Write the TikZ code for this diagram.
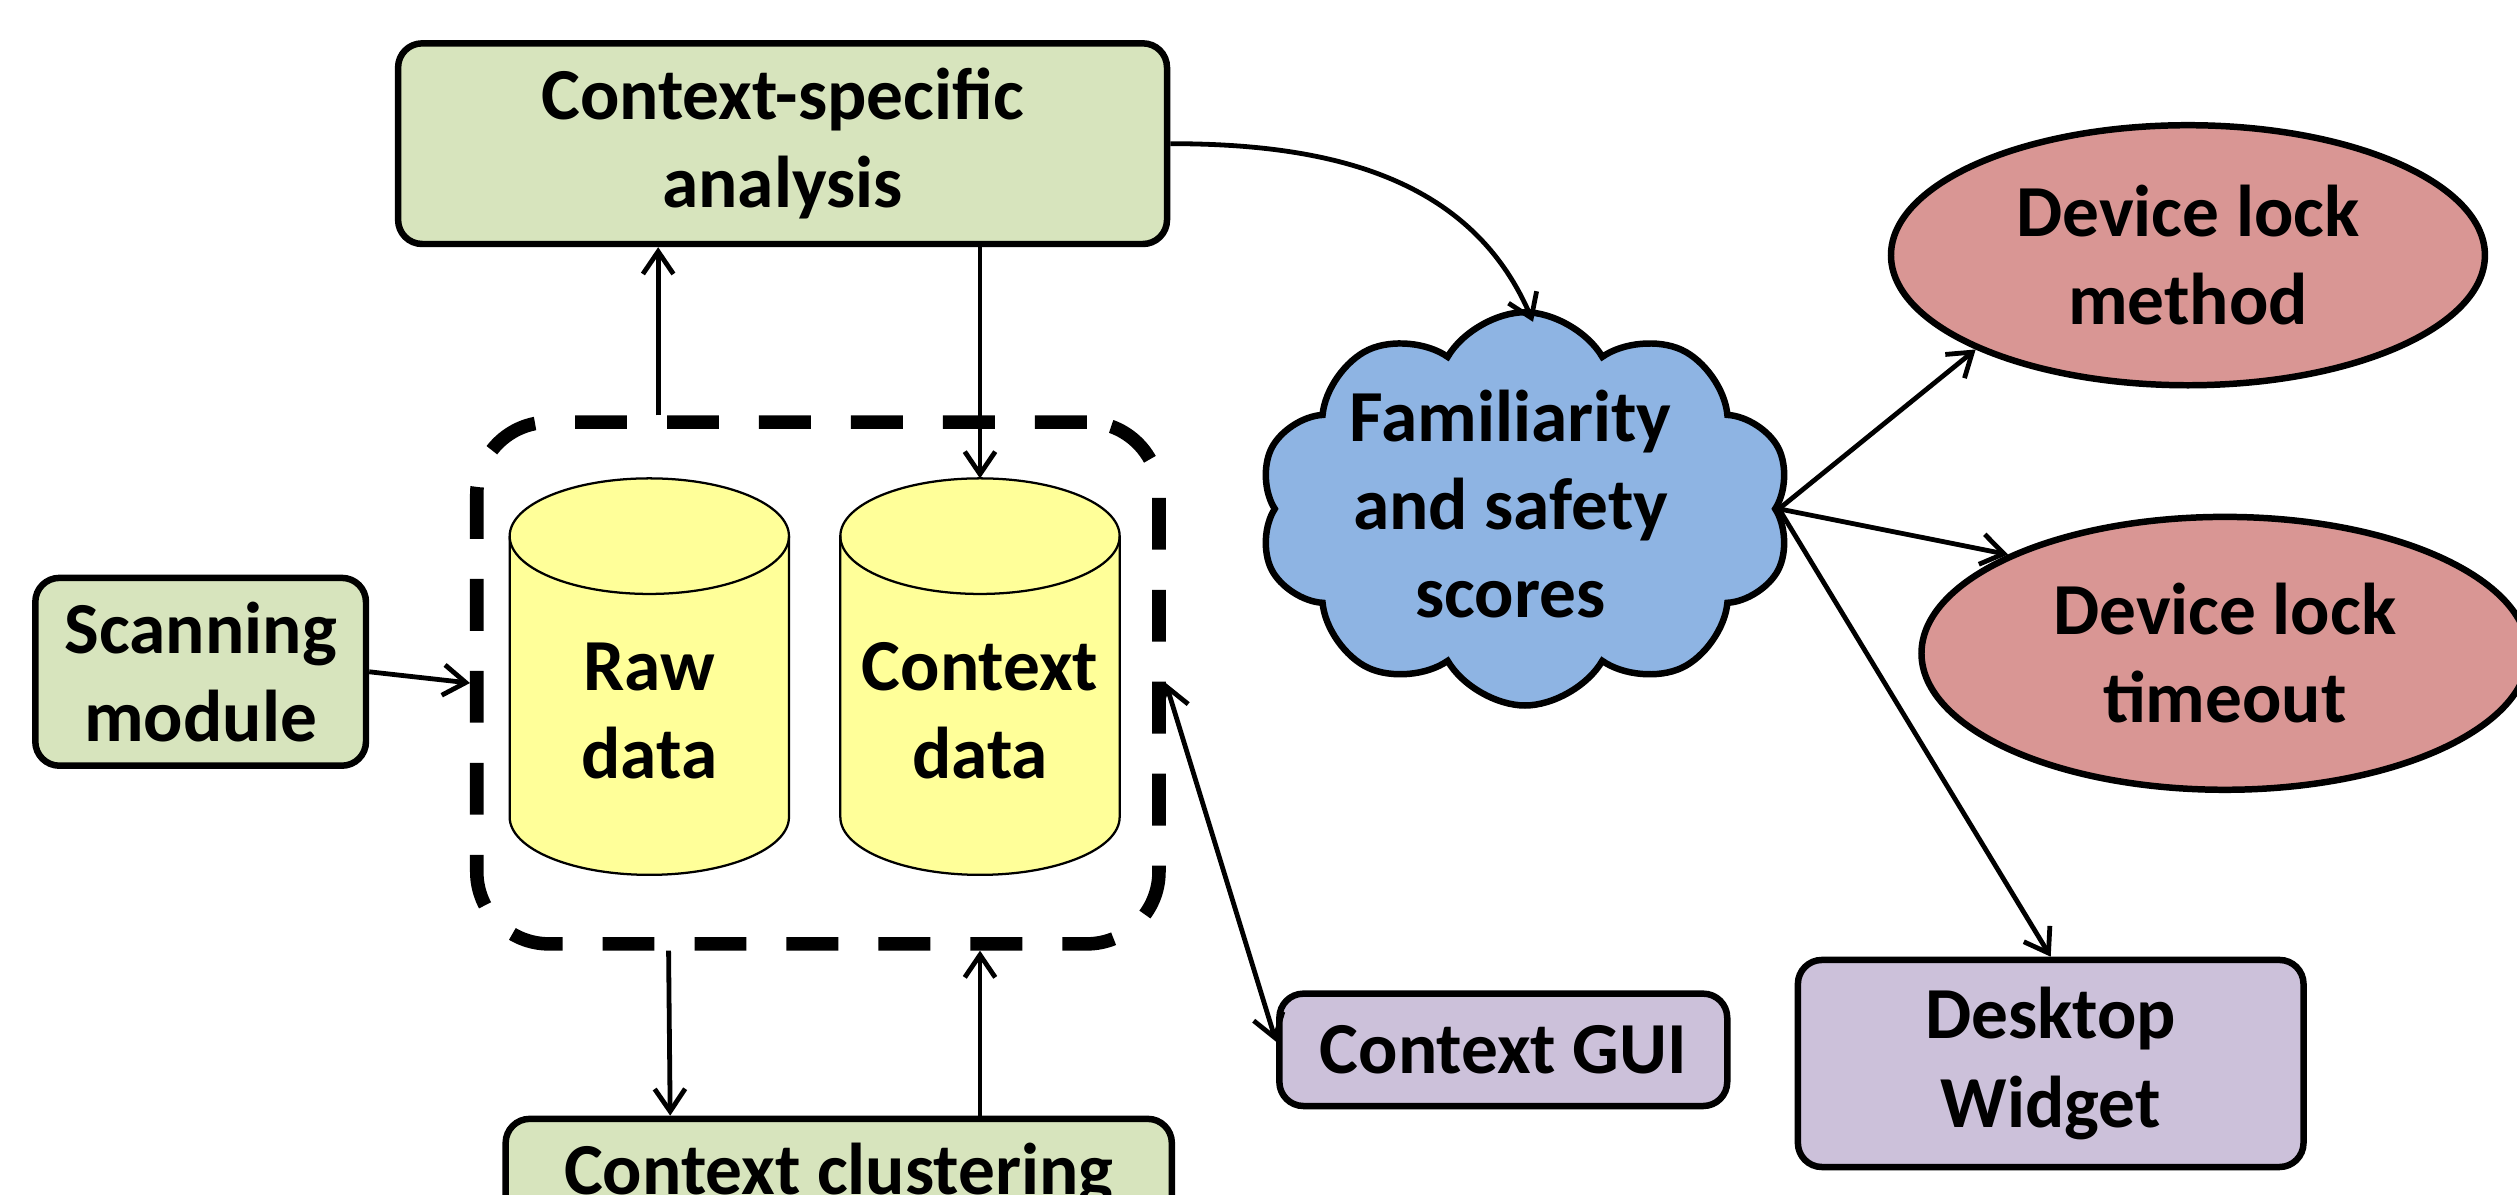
\documentclass[tikz,border=0pt]{standalone}
\usepackage{fontspec}
\setmainfont{Carlito}
\usepackage{xcolor}
\usetikzlibrary{arrows.meta,shapes,backgrounds}

\definecolor{boxgreen}{HTML}{D7E4BD}
\definecolor{dbyellow}{HTML}{FFFF99}
\definecolor{cloudblue}{HTML}{8EB4E3}
\definecolor{lockred}{HTML}{D99694}
\definecolor{guipurple}{HTML}{CCC1DA}

\tikzset{
  txt/.style={font=\fontsize{13}{15.6}\selectfont\bfseries, align=center, inner sep=0pt},
  module/.style={txt, draw, line width=1.15pt, rounded corners=1.5mm, fill=boxgreen},
  ui/.style={module, fill=guipurple},
  store/.style={minimum width=1.74cm, minimum height=2.47cm, outer sep=0pt},
  lock/.style={txt, draw, line width=1.15pt, fill=lockred, ellipse},
}

\begin{document}
\begin{tikzpicture}[>={Straight Barb[length=1.4mm,width=1.9mm]}, line width=0.85pt]
\useasboundingbox (0,0) rectangle (15.68,7.44);
\clip (0,0) rectangle (15.68,7.44);

% nodes
\node[module, minimum width=4.79cm, minimum height=1.25cm] (analysis) at (4.875,6.545) {Context-specific\\analysis};
\node[module, minimum width=2.06cm, minimum height=1.17cm] (scan) at (1.25,3.255) {Scanning\\module};
\node[draw, line width=2.4pt, dash pattern=on 9.2pt off 7.1pt, rounded corners=4.5mm,
  minimum width=4.25cm, minimum height=3.25cm] (container) at (5.095,3.185) {};
\node[store, label={[txt,yshift=-2.15mm]center:{Raw\\data}}] (raw) at (4.045,3.225) {};
\node[store, label={[txt,yshift=-2.15mm]center:{Context\\data}}] (ctx) at (6.105,3.225) {};
\node[module, minimum width=4.15cm, minimum height=0.70cm] (cluster) at (5.225,0.12) {Context clustering};
\node[ui, minimum width=2.79cm, minimum height=0.70cm] (gui) at (9.365,0.90) {Context GUI};
\node[draw, line width=1.15pt, fill=cloudblue, cloud, cloud puffs=10, cloud puff arc=120,
  cloud ignores aspect, minimum width=3.32cm, minimum height=2.45cm,
  label={[txt,xshift=-0.9mm,yshift=0.3mm]center:{Familiarity\\and safety\\scores}}] (cloud) at (9.50,4.27) {};
\node[lock, minimum width=3.70cm, minimum height=1.62cm] (method) at (13.63,5.85) {Device lock\\method};
\node[lock, minimum width=3.78cm, minimum height=1.70cm] (timeout) at (13.86,3.37) {Device lock\\timeout};
\node[ui, minimum width=3.15cm, minimum height=1.29cm] (widget) at (12.775,0.815) {Desktop\\Widget};

% the two data stores
\begin{scope}[on background layer, line width=1.15pt]
\foreach \db in {raw,ctx}{
  \filldraw[fill=dbyellow] ([yshift=-3.6mm]\db.north west) -- ([yshift=3.6mm]\db.south west)
    arc[start angle=180, end angle=360, x radius=8.7mm, y radius=3.6mm]
    -- ([yshift=-3.6mm]\db.north east)
    arc[start angle=0, end angle=180, x radius=8.7mm, y radius=3.6mm] -- cycle;
  \draw ([yshift=-3.6mm]\db.north west) arc[start angle=180, end angle=360, x radius=8.7mm, y radius=3.6mm];
}
\end{scope}

% connectors
\draw[->] (scan.east) -- (container.west);
\draw[->] ([xshift=0.55mm]raw.north |- container.north) -- ([xshift=0.55mm]raw.north |- analysis.south);
\draw[->] (analysis.south -| ctx.north) -- (ctx.north);
\draw[->] ([xshift=1.2mm]raw.south |- container.south) -- ([xshift=1.3mm]raw.south |- cluster.north);
\draw[->] (cluster.north -| ctx.south) -- (container.south -| ctx.south);
\draw[<->] (container.east) -- ([yshift=0.5mm]gui.west);
\draw[->] (analysis.east) to[out=0, in=113] ([xshift=0.5mm,yshift=-0.8mm]cloud.north);
\draw[->] (cloud.east) -- (method.south west);
\draw[->] (cloud.east) -- (timeout.north west);
\draw[->] (cloud.east) -- (widget.north);

\end{tikzpicture}
\end{document}
